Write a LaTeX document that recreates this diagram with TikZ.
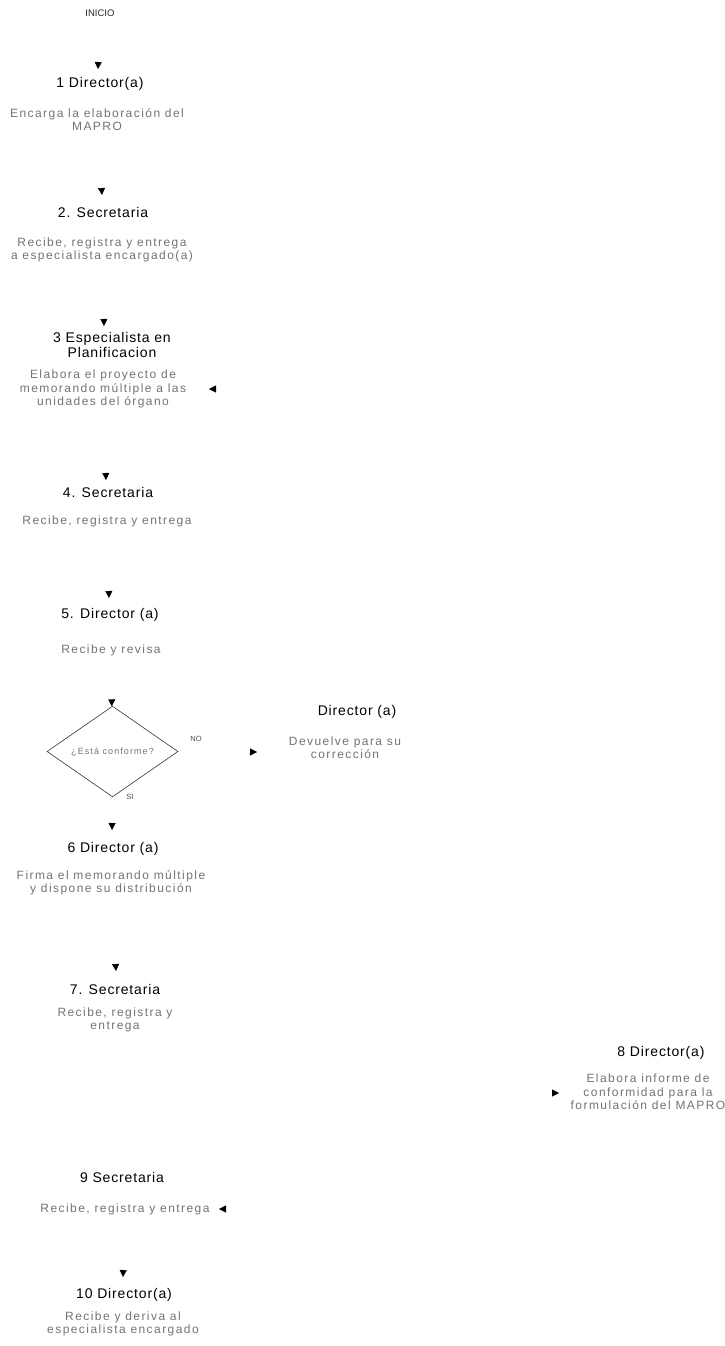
\documentclass[tikz,border=0pt]{standalone}
\usepackage{fontspec}
\setmainfont{Liberation Sans}
\newfontfamily\headfam[LetterSpace=6]{Liberation Sans}
\newfontfamily\textfam[LetterSpace=12]{Liberation Sans}
\usetikzlibrary{arrows.meta,shapes.geometric}
\newcommand\headfont{\headfam\fontsize{14}{15}\selectfont}
\newcommand\bodyfont{\textfam\fontsize{12}{13.5}\selectfont}
\newcommand\smallfont{\textfam\fontsize{9}{11}\selectfont}

\begin{document}
\begin{tikzpicture}[x=1pt,y=-1pt,
  title/.style={font=\headfont, text=black, align=center, inner sep=0pt},
  body/.style={font=\bodyfont, text=black!55, align=center, inner sep=0pt},
  tag/.style={font=\fontsize{7.5}{8}\selectfont, text=black!70, inner sep=0pt},
  flow/.style={draw=white, line width=0.4pt,
    -{Triangle[width=7pt,length=7pt,color=black]}},
  choice/.style={diamond, draw=black!80, line width=0.6pt,
    minimum width=131pt, minimum height=63pt, inner sep=0pt,
    font=\smallfont, text=black!55}]
\useasboundingbox (0,0) rectangle (724,1346);

% start
\node[font=\fontsize{9.5}{10}\selectfont, text=black!85, inner sep=1pt] (ini) at (100,13) {INICIO};

% main column of steps
\node[title] (t1) at (100,84) {1 Director(a)};
\node[body]  (b1) at (97,119.5) {Encarga la elaboración del\\MAPRO};

\node[title] (t2) at (103,212) {2. Secretaria};
\node[body]  (b2) at (102,250) {Recibe, registra y entrega\\a especialista encargado(a)};

\node[title] (t3) at (112,344.5) {3 Especialista en\\Planificacion};
\node[body]  (b3) at (103,389) {Elabora el proyecto de\\memorando múltiple a las\\unidades del órgano};

\node[title] (t4) at (108,492) {4. Secretaria};
\node[body]  (b4) at (107,521) {Recibe, registra y entrega};

\node[title] (t5) at (110,615) {5. Director (a)};
\node[body]  (b5) at (111,650) {Recibe y revisa};

\node[choice] (dec) at (112.5,751.5) {¿Está conforme?};
\node[tag] (no) at (196,739) {NO};
\node[tag] (si) at (130,797) {SI};

\node[title] (rt) at (357,712) {Director (a)};
\node[body]  (rb) at (345,747.5) {Devuelve para su\\corrección};

\node[title] (t6) at (113,849) {6 Director (a)};
\node[body]  (b6) at (111,883) {Firma el memorando múltiple\\y dispone su distribución};

\node[title] (t7) at (115,989) {7. Secretaria};
\node[body]  (b7) at (115,1020) {Recibe, registra y\\entrega};

\node[title] (t8) at (661,1053) {8 Director(a)};
\node[body]  (b8) at (648,1092) {Elabora informe de\\conformidad para la\\formulación del MAPRO};

\node[title] (t9) at (122,1177) {9 Secretaria};
\node[body]  (b9) at (125,1209) {Recibe, registra y entrega};

\node[title] (t10) at (124,1295) {10 Director(a)};
\node[body]  (b10) at (123,1324) {Recibe y deriva al\\especialista encargado};

% arrow ends
\coordinate (in1) at (98,69);
\coordinate (in2) at (102,195);
\coordinate (in3) at (104,326);
\coordinate (in3r) at (209,389);
\coordinate (in4) at (106,480);
\coordinate (in5) at (109,598);
\coordinate (inno) at (257,752);
\coordinate (in6) at (112,830);
\coordinate (in7) at (116,971);
\coordinate (in8) at (559,1093);
\coordinate (in9) at (219,1209);
\coordinate (in10) at (123,1277);

% connectors
\draw[flow] (ini) -- (in1);
\draw[flow] (b1) -- (in2);
\draw[flow] (b2) -- (in3);
\draw[flow] (b3) -- (in4);
\draw[flow] (b4) -- (in5);
\draw[flow] (b5) -- (dec);
\draw[flow] (dec.east) -- (inno);
\draw[flow] (rt.north) |- (in3r);
\draw[flow] (dec.south) -- (in6);
\draw[flow] (b6) -- (in7);
\draw[flow] (b7) |- (in8);
\draw[flow] (b8.south) |- (in9);
\draw[flow] (b9) -- (in10);
\end{tikzpicture}
\end{document}
